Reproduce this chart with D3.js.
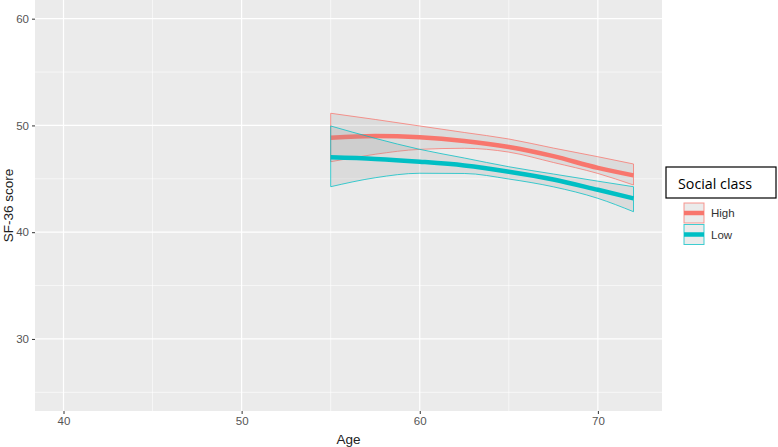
<!DOCTYPE html>
<html>
<head>
<meta charset="utf-8">
<script src="https://cdn.jsdelivr.net/npm/d3@7"></script>
<style>
  body { margin: 0; background: #fff; }
  .axis text { font-family: "Liberation Sans", Arial, sans-serif; font-size: 11.5px; fill: #555; }
  .axis line { stroke: #333; }
  .axis path { display: none; }
</style>
</head>
<body>
<div id="chart"></div>
<script>
// values
const ages = [55, 57.5, 60, 62.5, 65, 67.5, 70, 72];
const highFit   = [48.85, 49.01, 48.89, 48.54, 47.98, 47.12, 46.02, 45.32];
const highUpper = [51.14, 50.56, 49.95, 49.34, 48.73, 47.88, 47.07, 46.39];
const highLower = [46.60, 47.30, 47.76, 47.86, 47.50, 46.53, 45.50, 44.42];
const lowFit    = [47.01, 46.86, 46.60, 46.25, 45.67, 44.94, 43.97, 43.17];
const lowUpper  = [49.95, 48.79, 47.76, 46.95, 46.13, 45.45, 44.78, 44.26];
const lowLower  = [44.26, 45.10, 45.52, 45.50, 44.98, 44.25, 43.17, 41.92];
const classes = ["High", "Low"];
const colours = ["#F8766D", "#00BFC4"];
const xTicks = [40, 50, 60, 70];
const xMinor = [45, 55, 65];
const yTicks = [30, 40, 50, 60];
const yMinor = [25, 35, 45, 55];

var width = 778, height = 447;
var margin = {top: 0, right: 116, bottom: 36, left: 35};
var pw = width - margin.left - margin.right,
    ph = height - margin.top - margin.bottom;

var svg = d3.select("#chart").append("svg")
    .attr("width", width)
    .attr("height", height);

var g = svg.append("g")
    .attr("transform", `translate(${margin.left},${margin.top})`);

// xlim 40-72, ylim 25-60 with ggplot 5% expansion
var x = d3.scaleLinear().domain([38.4, 73.6]).range([0, pw]);
var y = d3.scaleLinear().domain([23.25, 61.75]).range([ph, 0]);

g.append("rect")
    .attr("width", pw)
    .attr("height", ph)
    .attr("fill", "#ebebeb");

// grid
g.selectAll(".ygm").data(yMinor).enter().append("line")
    .attr("x1", 0).attr("x2", pw)
    .attr("y1", d => y(d)).attr("y2", d => y(d))
    .attr("stroke", "#fff").attr("stroke-width", 0.6);
g.selectAll(".xgm").data(xMinor).enter().append("line")
    .attr("y1", 0).attr("y2", ph)
    .attr("x1", d => x(d)).attr("x2", d => x(d))
    .attr("stroke", "#fff").attr("stroke-width", 0.6);
g.selectAll(".yg").data(yTicks).enter().append("line")
    .attr("x1", 0).attr("x2", pw)
    .attr("y1", d => y(d)).attr("y2", d => y(d))
    .attr("stroke", "#fff").attr("stroke-width", 1.2);
g.selectAll(".xg").data(xTicks).enter().append("line")
    .attr("y1", 0).attr("y2", ph)
    .attr("x1", d => x(d)).attr("x2", d => x(d))
    .attr("stroke", "#fff").attr("stroke-width", 1.2);

var series = [
    {fit: highFit, upper: highUpper, lower: highLower},
    {fit: lowFit, upper: lowUpper, lower: lowLower}
];

var area = d3.area()
    .x(d => x(d.age))
    .y0(d => y(d.lo))
    .y1(d => y(d.hi))
    .curve(d3.curveMonotoneX);
var line = d3.line()
    .x(d => x(d.age))
    .y(d => y(d.v))
    .curve(d3.curveMonotoneX);

series.forEach((s, i) => {
    var rows = ages.map((a, k) => ({age: a, lo: s.lower[k], hi: s.upper[k], v: s.fit[k]}));
    g.append("path")
        .attr("d", area(rows) + "Z")
        .attr("fill", "#999")
        .attr("fill-opacity", 0.2)
        .attr("stroke", colours[i])
        .attr("stroke-opacity", 0.75)
        .attr("stroke-width", 1);
    g.append("path")
        .attr("d", line(rows))
        .attr("fill", "none")
        .attr("stroke", colours[i])
        .attr("stroke-width", 4.5);
});

// axes
g.append("g")
    .attr("class", "axis")
    .attr("transform", `translate(0,${ph})`)
    .call(d3.axisBottom(x).tickValues(xTicks).tickSize(3).tickPadding(3));
g.append("g")
    .attr("class", "axis")
    .call(d3.axisLeft(y).tickValues(yTicks).tickSize(3).tickPadding(3));

svg.append("text")
    .attr("x", margin.left + pw / 2)
    .attr("y", 444)
    .attr("text-anchor", "middle")
    .style("font-family", "Liberation Sans, Arial, sans-serif")
    .style("font-size", "13.5px")
    .style("fill", "#222")
    .text("Age");

svg.append("text")
    .attr("transform", `translate(13,${margin.top + ph / 2}) rotate(-90)`)
    .attr("text-anchor", "middle")
    .style("font-family", "Liberation Sans, Arial, sans-serif")
    .style("font-size", "13.5px")
    .style("fill", "#222")
    .text("SF-36 score");

// legend
var leg = svg.append("g");
leg.append("rect")
    .attr("x", 666).attr("y", 167)
    .attr("width", 110).attr("height", 31)
    .attr("fill", "#fff")
    .attr("stroke", "#000")
    .attr("stroke-width", 1.2);
leg.append("text")
    .attr("x", 678).attr("y", 189)
    .style("font-family", "Open Sans, Liberation Sans, sans-serif")
    .style("font-size", "15px")
    .style("fill", "#000")
    .attr("textLength", 74)
    .attr("lengthAdjust", "spacingAndGlyphs")
    .text("Social class");

var keys = leg.selectAll(".key").data(classes).enter().append("g")
    .attr("transform", (d, i) => `translate(684,${203 + i * 21.5})`);
keys.append("rect")
    .attr("width", 20).attr("height", 20)
    .attr("fill", "#999").attr("fill-opacity", 0.2)
    .attr("stroke", (d, i) => colours[i])
    .attr("stroke-opacity", 0.75);
keys.append("line")
    .attr("x1", 0).attr("x2", 20)
    .attr("y1", 10).attr("y2", 10)
    .attr("stroke", (d, i) => colours[i])
    .attr("stroke-width", 4.5);
keys.append("text")
    .attr("x", 27).attr("y", 14)
    .style("font-family", "Liberation Sans, Arial, sans-serif")
    .style("font-size", "11.5px")
    .style("fill", "#333")
    .text(d => d);
</script>
</body>
</html>
